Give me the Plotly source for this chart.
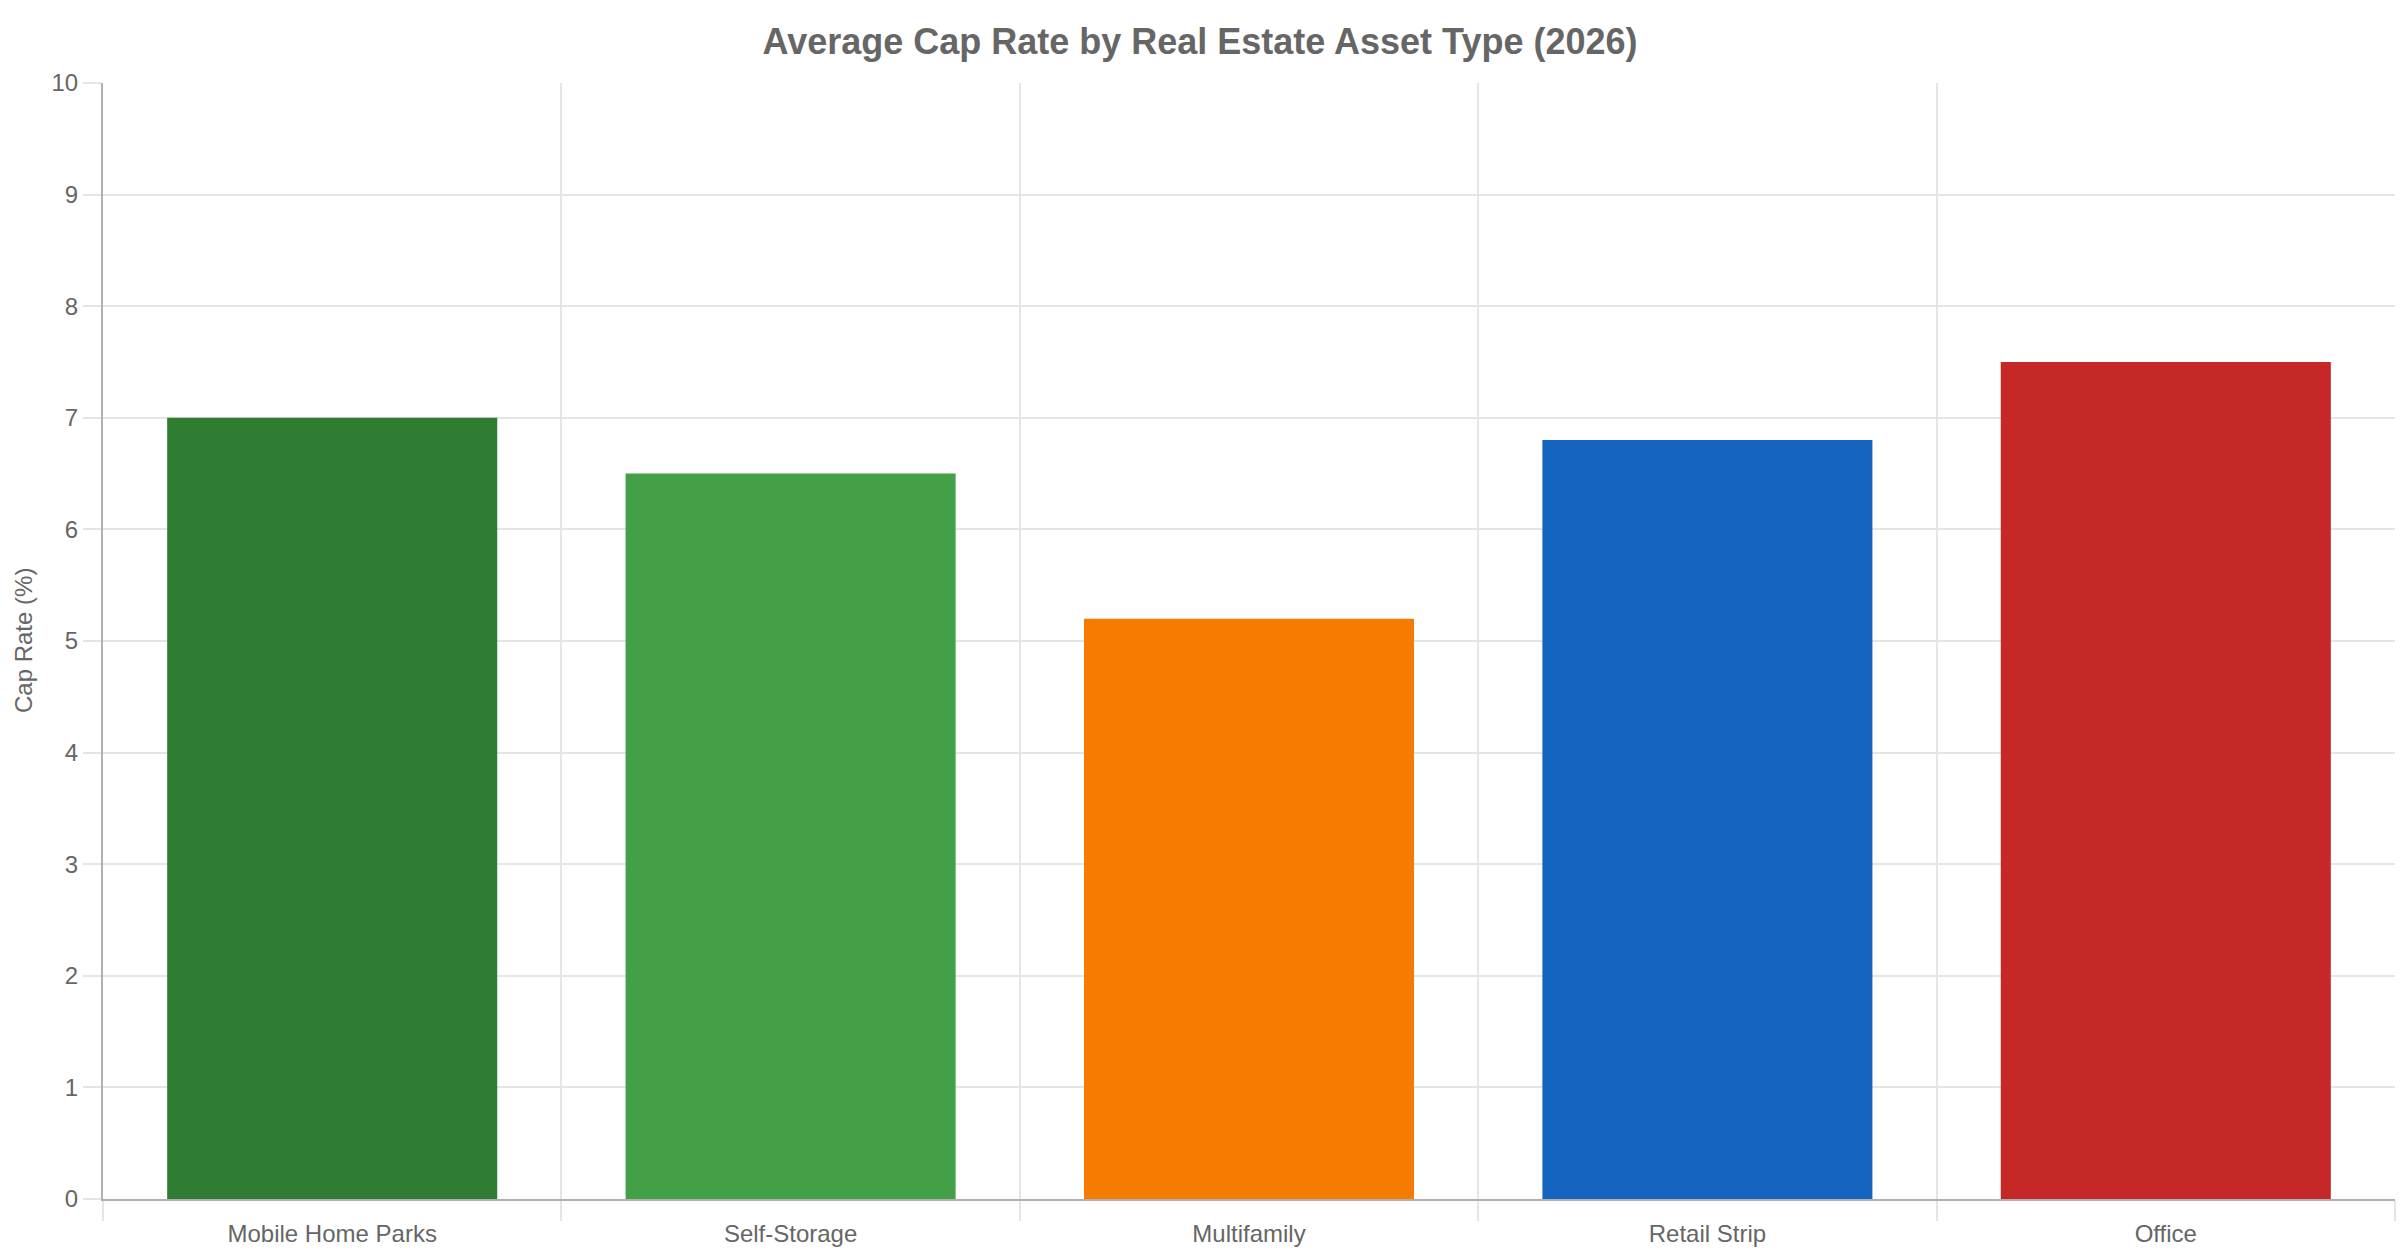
import plotly.graph_objects as go

categories = ["Mobile Home Parks", "Self-Storage", "Multifamily", "Retail Strip", "Office"]
cap_rates = [7.0, 6.5, 5.2, 6.8, 7.5]
bar_colors = ["#2E7D32", "#43A047", "#F57C00", "#1565C0", "#C62828"]
y_ticks = list(range(0, 11))

FONT = "Liberation Sans, Arial, sans-serif"
TEXT = "#666666"
GRID = "#e5e5e5"
AXIS = "#b0b0b0"

x_pos = list(range(len(categories)))

fig = go.Figure(
    go.Bar(
        x=x_pos,
        y=cap_rates,
        marker=dict(color=bar_colors, line=dict(width=0)),
        width=0.72,
        hoverinfo="y",
    )
)

fig.update_layout(
    width=2400,
    height=1260,
    margin=dict(l=103, r=5, t=83, b=61),
    paper_bgcolor="white",
    plot_bgcolor="white",
    showlegend=False,
    font=dict(family=FONT, size=24, color=TEXT),
    title=dict(
        text="<b>Average Cap Rate by Real Estate Asset Type (2026)</b>",
        font=dict(family=FONT, size=36, color=TEXT),
        x=0.5,
        xanchor="center",
        xref="container",
        y=1 - 41 / 1260,
        yanchor="middle",
        yref="container",
    ),
)

fig.update_xaxes(
    range=[-0.5, len(categories) - 0.5],
    tickmode="array",
    tickvals=x_pos,
    ticktext=categories,
    ticks="outside",
    ticklen=12,
    tickcolor="rgba(0,0,0,0)",
    showgrid=False,
    zeroline=False,
    showline=True,
    linecolor=AXIS,
    linewidth=2,
    tickfont=dict(family=FONT, size=24, color=TEXT),
    minor=dict(
        tickmode="array",
        tickvals=[i - 0.5 for i in range(len(categories) + 1)],
        showgrid=True,
        gridcolor=GRID,
        gridwidth=2,
        ticks="outside",
        ticklen=20,
        tickcolor=GRID,
        tickwidth=2,
    ),
)

fig.update_yaxes(
    range=[0, 10],
    tickmode="array",
    tickvals=y_ticks,
    ticks="outside",
    ticklen=18,
    tickcolor=GRID,
    tickwidth=2,
    showgrid=True,
    gridcolor=GRID,
    gridwidth=2,
    zeroline=False,
    showline=True,
    linecolor=AXIS,
    linewidth=2,
    tickfont=dict(family=FONT, size=24, color=TEXT),
)

fig.add_annotation(
    text="Cap Rate (%)",
    xref="paper",
    yref="paper",
    x=0,
    y=0.5,
    xshift=-80,
    textangle=-90,
    showarrow=False,
    font=dict(family=FONT, size=24, color=TEXT),
    xanchor="center",
    yanchor="middle",
)

fig.write_html("out.html")
